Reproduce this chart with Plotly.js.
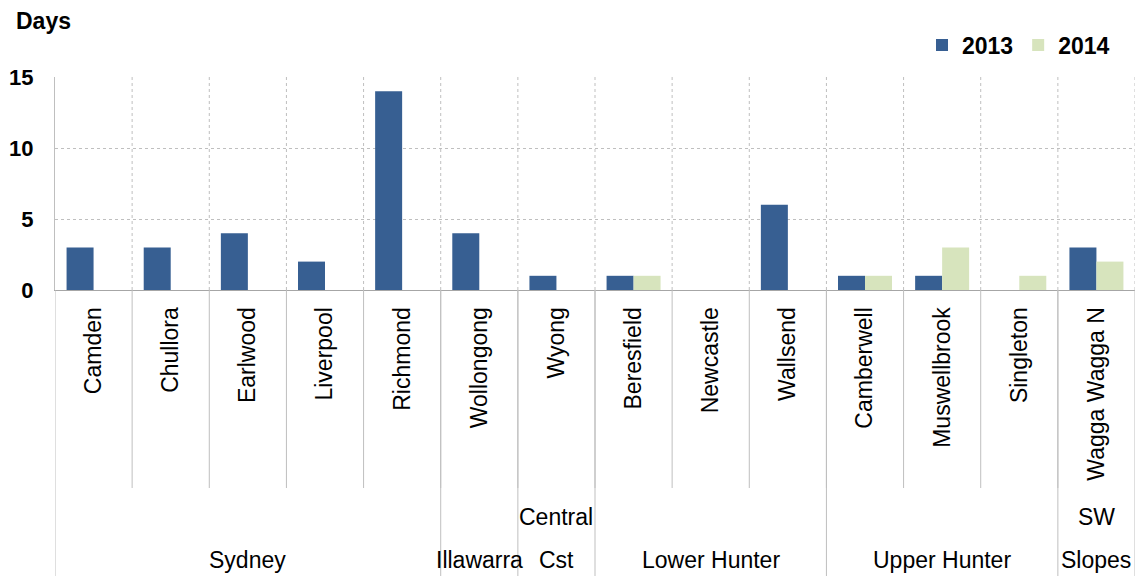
<!DOCTYPE html>
<html>
<head>
<meta charset="utf-8">
<script src="https://cdn.plot.ly/plotly-3.0.1.min.js"></script>
<style>html,body{margin:0;padding:0;background:#fff;}#chart{width:1141px;height:576px;}</style>
</head>
<body>
<div id="chart"></div>
<script>
var stations = ["Camden","Chullora","Earlwood","Liverpool","Richmond","Wollongong","Wyong","Beresfield","Newcastle","Wallsend","Camberwell","Muswellbrook","Singleton","Wagga Wagga N"];
var days2013 = [3,3,4,2,14,4,1,1,0,6,1,1,0,3];
var days2014 = [0,0,0,0,0,0,0,1,0,0,1,3,1,2];
var groupTop = ["","","Central","","","SW"];
var groupBottom = ["Sydney","Illawarra","Cst","Lower Hunter","Upper Hunter","Slopes"];
var groupSizes = [5,1,1,3,3,1];
var yTicks = [0,5,10,15];

var FONT = "Liberation Sans, Arial, sans-serif";
var lineColor = "#BFBFBF";
var plotTop = 77, plotBottom = 290;
var plotH = plotBottom - plotTop;
function py(pixY){ return (plotBottom - pixY) / plotH; }

var shapes = [];
var annotations = [];
// short separators between stations
for (var k = 1; k < stations.length; k++) {
  shapes.push({type:"line", xref:"x", yref:"paper", x0:k-0.5, x1:k-0.5, y0:0, y1:py(488), line:{color:lineColor, width:1}});
}
// group separators and labels
var start = 0;
var bounds = [-0.5];
for (var g = 0; g < groupSizes.length; g++) {
  var end = start + groupSizes[g];
  bounds.push(end - 0.5);
  var cx = (start + end - 1) / 2;
  if (groupTop[g]) annotations.push({xref:"x", yref:"paper", x:cx, y:py(517), text:groupTop[g], showarrow:false, xanchor:"center", yanchor:"middle", font:{family:FONT, size:23, color:"#000"}});
  annotations.push({xref:"x", yref:"paper", x:cx, y:py(560), text:groupBottom[g], showarrow:false, xanchor:"center", yanchor:"middle", font:{family:FONT, size:23, color:"#000"}});
  start = end;
}
bounds.forEach(function(b){
  shapes.push({type:"line", xref:"x", yref:"paper", x0:b, x1:b, y0:0, y1:py(576), line:{color:lineColor, width:1}});
});
// plot-area vertical dotted grid at boundaries
for (var k = 1; k <= stations.length; k++) {
  shapes.push({type:"line", xref:"x", yref:"paper", x0:k-0.5, x1:k-0.5, y0:0, y1:1, line:{color:"#BFBFBF", width:1, dash:"dot"}, layer:"below"});
}
annotations.push({xref:"paper", yref:"paper", x:(14-55)/1080, y:py(21), text:"<b>Days</b>", showarrow:false, xanchor:"left", yanchor:"middle", font:{family:FONT, size:23, color:"#000"}});

var xIdx = stations.map(function(s,i){return i;});

var data = [
  {type:"bar", name:"2013", x:xIdx, y:days2013, marker:{color:"#375F92"}},
  {type:"bar", name:"2014", x:xIdx, y:days2014, marker:{color:"#D7E4BD"}}
];

var layout = {
  width:1141, height:576,
  margin:{l:55, r:6, t:plotTop, b:576-plotBottom, pad:0},
  paper_bgcolor:"#fff", plot_bgcolor:"#fff",
  barmode:"group", bargap:0.3, bargroupgap:0,
  showlegend:true,
  legend:{orientation:"h", x:(922-55)/1080, y:py(45), xanchor:"left", yanchor:"middle", font:{family:FONT, size:23, color:"#000", weight:"bold"}, itemwidth:30, tracegroupgap:0, bgcolor:"rgba(0,0,0,0)"},
  xaxis:{
    range:[-0.5, stations.length-0.5], tickmode:"array", tickvals:xIdx, ticktext:stations,
    tickangle:-90, showgrid:false, zeroline:false, showline:true, linecolor:"#A6A6A6", linewidth:1,
    ticks:"", ticklabelstandoff:7, tickfont:{family:FONT, size:23, color:"#000"}, fixedrange:true
  },
  yaxis:{
    range:[0,15], tickmode:"array", tickvals:yTicks, ticktext:yTicks.map(String),
    showgrid:true, gridcolor:"#BFBFBF", griddash:"dot", gridwidth:1, zeroline:false,
    showline:true, linecolor:"#BFBFBF", linewidth:1, ticks:"", ticklabelstandoff:16,
    tickfont:{family:FONT, size:22, color:"#000", weight:"bold"}, fixedrange:true
  },
  shapes:shapes,
  annotations:annotations
};
Plotly.newPlot("chart", data, layout, {displayModeBar:false, staticPlot:true});
</script>
</body>
</html>
